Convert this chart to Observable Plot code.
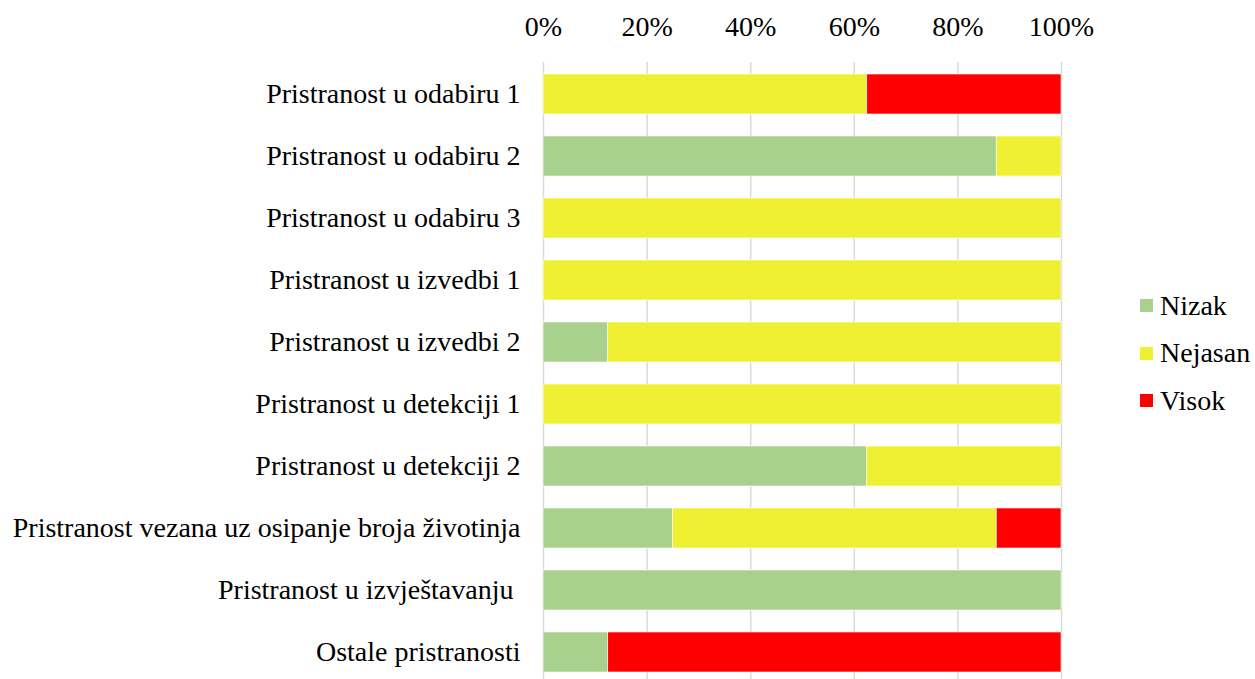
<!DOCTYPE html>
<html>
<head>
<meta charset="utf-8">
<script src="https://cdn.jsdelivr.net/npm/d3@7"></script>
<script src="https://cdn.jsdelivr.net/npm/@observablehq/plot@0.6"></script>
<style>
  body { margin: 0; background: #fff; }
  #wrap { position: relative; width: 1255px; height: 679px; overflow: hidden; }
  #legend { position: absolute; left: 1140px; top: 282px; font-family: 'Liberation Serif', 'Times New Roman', serif; font-size: 28px; color: #000; }
  #legend .row { display: flex; align-items: center; height: 47.5px; }
  #legend .sw { width: 13px; height: 13px; margin-right: 7px; }
  svg text { white-space: pre; }
</style>
</head>
<body>
<div id="wrap">
  <div id="chart"></div>
  <div id="legend"></div>
</div>
<script>
const categories = [
  "Pristranost u odabiru 1",
  "Pristranost u odabiru 2",
  "Pristranost u odabiru 3",
  "Pristranost u izvedbi 1",
  "Pristranost u izvedbi 2",
  "Pristranost u detekciji 1",
  "Pristranost u detekciji 2",
  "Pristranost vezana uz osipanje broja životinja",
  "Pristranost u izvještavanju ",
  "Ostale pristranosti"
];
const seriesNames = ["Nizak", "Nejasan", "Visok"];
const seriesColors = ["#A9D18E", "#F0F032", "#FF0000"];
const nizak   = [0, 87.5, 0, 0, 12.5, 0, 62.5, 25, 100, 12.5];
const nejasan = [62.5, 12.5, 100, 100, 87.5, 100, 37.5, 62.5, 0, 0];
const visok   = [37.5, 0, 0, 0, 0, 0, 0, 12.5, 0, 87.5];
const xTicks = [0, 20, 40, 60, 80, 100];

const seriesValues = [nizak, nejasan, visok];
const rows = [];
seriesNames.forEach((s, si) => {
  categories.forEach((c, ci) => {
    rows.push({category: c, series: s, value: seriesValues[si][ci]});
  });
});

const chart = Plot.plot({
  width: 1255,
  height: 679,
  marginLeft: 543,
  marginRight: 194,
  marginTop: 62,
  marginBottom: -5,
  style: {fontFamily: "'Liberation Serif', 'Times New Roman', serif", fontSize: "28px", color: "#000", background: "#fff"},
  x: {domain: [0, 100], axis: "top", ticks: xTicks, tickFormat: d => d + "%", tickSize: 0, tickPadding: 27, label: null},
  y: {domain: categories, paddingInner: 0.357, paddingOuter: 0.18, tickSize: 0, tickPadding: 23, label: null},
  color: {domain: seriesNames, range: seriesColors},
  marks: [
    Plot.ruleX(xTicks, {stroke: "#d9d9d9", strokeWidth: 1.5}),
    Plot.barX(rows, Plot.stackX({
      x: "value", y: "category", fill: "series", order: seriesNames,
      stroke: "#fff", strokeWidth: 0.6, inset: 0
    }))
  ]
});
document.getElementById("chart").appendChild(chart);

const legend = document.getElementById("legend");
seriesNames.forEach((s, i) => {
  const row = document.createElement("div");
  row.className = "row";
  const sw = document.createElement("div");
  sw.className = "sw";
  sw.style.background = seriesColors[i];
  const t = document.createElement("span");
  t.textContent = s;
  row.appendChild(sw);
  row.appendChild(t);
  legend.appendChild(row);
});
</script>
</body>
</html>
